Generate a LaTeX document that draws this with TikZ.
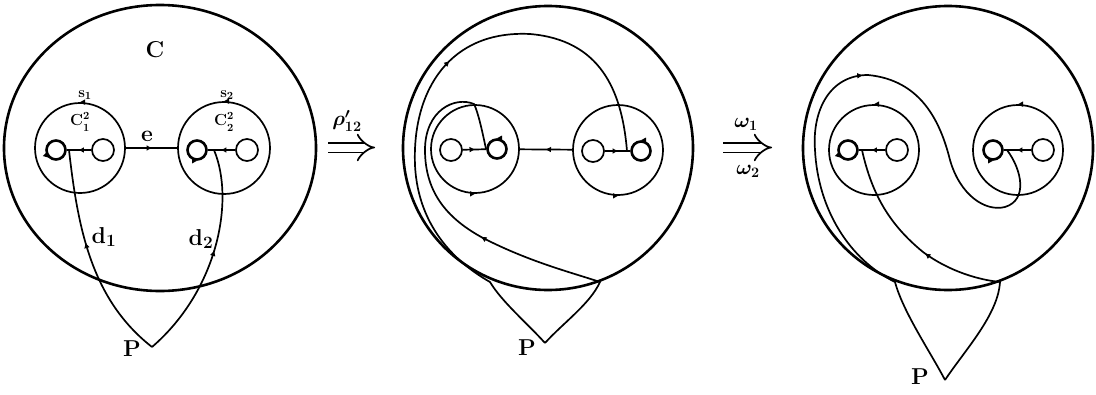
\documentclass[tikz,border=0pt]{standalone}
\usetikzlibrary{arrows.meta, decorations.markings}

\tikzset{
  fwd/.style={postaction={decorate}, decoration={markings,
      mark=at position #1 with {\arrow{Triangle[length=5pt, width=5pt]}}}},
  bwd/.style={postaction={decorate}, decoration={markings,
      mark=at position #1 with {\arrowreversed{Triangle[length=5pt, width=5pt]}}}},
  disc/.style={line width=2.6pt},
  ring/.style={circle, draw, inner sep=0pt, minimum size=#1},
  hole/.style={circle, draw, inner sep=0pt, minimum size=22pt},
  spin/.style={circle, draw, line width=2.6pt, inner sep=0pt, minimum size=19pt},
  lab/.style={inner sep=0pt, font=\fontsize{23}{26}\selectfont\bfseries\boldmath},
  sublab/.style={inner sep=0pt, font=\fontsize{15}{17}\selectfont\bfseries\boldmath},
}

\begin{document}
\begin{tikzpicture}[x=1pt, y=-1pt, line width=1.7pt]
  \useasboundingbox (0,0) rectangle (1096,394);

  % first picture
  \coordinate (O1) at (160,148);
  \coordinate (P1) at (152,347);
  \coordinate (d1s) at (69,150);
  \coordinate (d2s) at (214,150);
  \draw[disc] (O1) ellipse[x radius=156, y radius=143];
  \node[ring=90pt] (C1) at (80,148) {};
  \node[ring=92pt] (C2) at (224,148) {};
  \node[spin] (a1) at (56,150) {};
  \node[hole] (b1) at (103,150) {};
  \node[spin] (a2) at (197,150) {};
  \node[hole] (b2) at (247,150) {};
  \draw[bwd=0.5] (a1) -- (b1);
  \draw[bwd=0.5] (a2) -- (b2);
  \draw[fwd=0.5] (C1) -- (C2);
  \path[fwd=0.5] (C1.north) ++(4,0) -- ++(-8,0);
  \path[fwd=0.5] (C2.north) ++(4,0) -- ++(-8,0);
  \path[fwd=0.5] (a1.-135) ++(-3,-3) -- ++(6,6);
  \path[fwd=0.5] (a2.south) ++(-3,0) -- ++(6,0);
  \draw[bwd=0.43] (d1s) .. controls (78,230) and (92,300) .. (P1);
  \draw[bwd=0.47] (d2s) .. controls (235,200) and (218,290) .. (P1);
  \node[lab] (tC) at (155,50) {C};
  \node[sublab] (ts1) at (85,95) {s$_1$};
  \node[sublab] (ts2) at (227,95) {s$_2$};
  \node[sublab, font=\fontsize{16}{18}\selectfont\bfseries\boldmath] (tC1) at (80,122) {C$^2_1$};
  \node[sublab, font=\fontsize{16}{18}\selectfont\bfseries\boldmath] (tC2) at (224,122) {C$^2_2$};
  \node[lab] (te) at (147,136) {e};
  \node[lab] (td1) at (104,237) {d$_1$};
  \node[lab] (td2) at (201,239) {d$_2$};
  \node[lab] (tP1) at (132,349) {P};

  % first move
  \coordinate (g1) at (328,147.5);
  \coordinate (g2) at (375,147.5);
  \draw[double distance=8pt, -{Implies}] (g1) -- (g2);
  \node[lab, font=\fontsize{20}{22}\selectfont\boldmath] (trho) at (347,121) {$\rho'_{12}$};

  % second picture
  \coordinate (O2) at (548,148);
  \coordinate (P2) at (545,343);
  \coordinate (u2) at (627,151);
  \coordinate (v2) at (486,149);
  \coordinate (x2) at (490,282);
  \coordinate (y2) at (600,282);
  \draw[disc] (O2) ellipse[x radius=145, y radius=142];
  \node[ring=88pt] (C3) at (475,149) {};
  \node[ring=90pt] (C4) at (618,150) {};
  \node[hole] (b3) at (451,150) {};
  \node[spin] (a3) at (497,149) {};
  \node[hole] (b4) at (593,151) {};
  \node[spin] (a4) at (641,151) {};
  \draw[fwd=0.5] (b3) -- (a3);
  \draw[fwd=0.5] (b4) -- (a4);
  \draw[bwd=0.5] (C3) -- (C4);
  \path[fwd=0.5] (C3.south) ++(-4,0) -- ++(8,0);
  \path[fwd=0.5] (C4.south) ++(-4,0) -- ++(8,0);
  \path[fwd=0.5] (a3.north) ++(3,0) -- ++(-6,0);
  \path[fwd=0.5] (a4.north) ++(3,0) -- ++(-6,0);
  \draw[bwd=0.43] (u2) .. controls (622,90) and (600,40) .. (530,34)
    .. controls (450,30) and (412,90) .. (415,165)
    .. controls (418,230) and (460,265) .. (x2)
    .. controls (502,302) and (527,323) .. (P2);
  \draw[bwd=0.53] (v2) .. controls (482,130) and (478,112) .. (474,104)
    .. controls (455,96) and (425,110) .. (425,150)
    .. controls (425,195) and (450,220) .. (483,238)
    .. controls (530,262) and (570,272) .. (y2)
    .. controls (590,304) and (563,323) .. (P2);
  \node[lab] (tP2) at (527,348) {P};

  % second move
  \coordinate (h1) at (723,147.5);
  \coordinate (h2) at (772,147.5);
  \draw[double distance=8pt, -{Implies}] (h1) -- (h2);
  \node[lab, font=\fontsize{20}{22}\selectfont\boldmath] (tw1) at (746,124) {$\omega_1$};
  \node[lab, font=\fontsize{20}{22}\selectfont\boldmath] (tw2) at (748,171) {$\omega_2$};

  % third picture
  \coordinate (O3) at (948,148);
  \coordinate (P3) at (945,380);
  \coordinate (u3) at (862,150);
  \coordinate (v3) at (1007,150);
  \coordinate (x3) at (895,282);
  \coordinate (y3) at (1000,282);
  \draw[disc] (O3) ellipse[x radius=145, y radius=142];
  \node[ring=90pt] (C5) at (874,150) {};
  \node[ring=90pt] (C6) at (1018,150) {};
  \node[spin] (a5) at (848,150) {};
  \node[hole] (b5) at (897,150) {};
  \node[spin] (a6) at (993,150) {};
  \node[hole] (b6) at (1043,150) {};
  \draw[bwd=0.5] (a5) -- (b5);
  \draw[bwd=0.5] (a6) -- (b6);
  \path[fwd=0.5] (C5.north) ++(4,0) -- ++(-8,0);
  \path[fwd=0.5] (C6.north) ++(4,0) -- ++(-8,0);
  \path[fwd=0.5] (a5.-135) ++(-3,-3) -- ++(6,6);
  \path[fwd=0.5] (a6.south) ++(-3,0) -- ++(6,0);
  \draw[bwd=0.39] (u3) .. controls (872,195) and (890,225) .. (923,252)
    .. controls (950,272) and (980,280) .. (y3)
    .. controls (998,315) and (965,350) .. (P3);
  \draw[bwd=0.43] (v3) .. controls (1022,170) and (1028,200) .. (1005,207)
    .. controls (985,212) and (960,195) .. (950,160)
    .. controls (940,120) and (920,80) .. (868,75)
    .. controls (830,75) and (812,110) .. (815,150)
    .. controls (818,210) and (850,260) .. (x3)
    .. controls (903,312) and (931,353) .. (P3);
  \node[lab] (tP3) at (920,377) {P};
\end{tikzpicture}
\end{document}
